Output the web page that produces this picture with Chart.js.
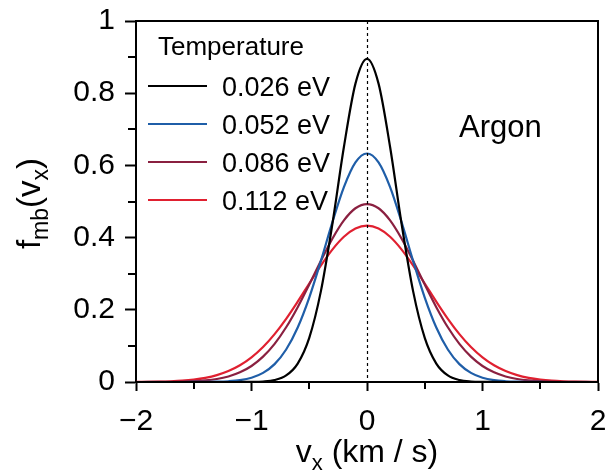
<!DOCTYPE html>
<html>
<head>
<meta charset="utf-8">
<script src="https://cdn.jsdelivr.net/npm/chart.js@4.4.1/dist/chart.umd.min.js"></script>
<style>
  html, body { margin: 0; padding: 0; background: #fff; }
  #wrap { width: 607px; height: 475px; }
</style>
</head>
<body>
<div id="wrap"><canvas id="mb"></canvas></div>
<script>
// vx in km/s
const vx = [-2.0, -1.9, -1.8, -1.7, -1.6, -1.5, -1.4, -1.3, -1.2, -1.1, -1.0,
            -0.9, -0.8, -0.7, -0.6, -0.5, -0.4, -0.3, -0.2, -0.1, 0.0,
            0.1, 0.2, 0.3, 0.4, 0.5, 0.6, 0.7, 0.8, 0.9, 1.0,
            1.1, 1.2, 1.3, 1.4, 1.5, 1.6, 1.7, 1.8, 1.9, 2.0];

const temps = ["0.026 eV", "0.052 eV", "0.086 eV", "0.112 eV"];
const colors = ["#000000", "#1f5ea8", "#8a2040", "#e02030"];

const f026 = [0, 0, 0, 0, 0, 0, 0, 0, 0, 0.0001, 0.0003,
              0.0014, 0.0055, 0.0181, 0.0510, 0.1223, 0.2503, 0.4371, 0.6510, 0.8265, 0.895,
              0.8265, 0.6510, 0.4371, 0.2503, 0.1223, 0.0510, 0.0181, 0.0055, 0.0014, 0.0003,
              0.0001, 0, 0, 0, 0, 0, 0, 0, 0, 0];
const f052 = [0, 0, 0, 0, 0, 0.0001, 0.0003, 0.0008, 0.0021, 0.0051, 0.0118,
              0.0252, 0.0495, 0.0900, 0.1510, 0.2340, 0.3348, 0.4423, 0.5398, 0.6083, 0.633,
              0.6083, 0.5398, 0.4423, 0.3348, 0.2340, 0.1510, 0.0900, 0.0495, 0.0252, 0.0118,
              0.0051, 0.0021, 0.0008, 0.0003, 0.0001, 0, 0, 0, 0, 0];
const f086 = [0.0000, 0.0001, 0.0002, 0.0005, 0.0010, 0.0022, 0.0044, 0.0084, 0.0154, 0.0268, 0.0444,
              0.0702, 0.1057, 0.1516, 0.2073, 0.2701, 0.3354, 0.3970, 0.4477, 0.4813, 0.493,
              0.4813, 0.4477, 0.3970, 0.3354, 0.2701, 0.2073, 0.1516, 0.1057, 0.0702, 0.0444,
              0.0268, 0.0154, 0.0084, 0.0044, 0.0022, 0.0010, 0.0005, 0.0002, 0.0001, 0.0000];
const f112 = [0.0003, 0.0005, 0.0011, 0.0021, 0.0038, 0.0068, 0.0116, 0.0191, 0.0303, 0.0463, 0.0682,
              0.0969, 0.1327, 0.1751, 0.2227, 0.2728, 0.3222, 0.3667, 0.4022, 0.4251, 0.433,
              0.4251, 0.4022, 0.3667, 0.3222, 0.2728, 0.2227, 0.1751, 0.1327, 0.0969, 0.0682,
              0.0463, 0.0303, 0.0191, 0.0116, 0.0068, 0.0038, 0.0021, 0.0011, 0.0005, 0.0003];
const series = [f026, f052, f086, f112];

const xTickLabels = {"-2": "\u22122", "-1": "\u22121", "0": "0", "1": "1", "2": "2"};
const yTickLabels = {"0": "0", "0.2": "0.2", "0.4": "0.4", "0.6": "0.6", "0.8": "0.8", "1": "1"};

const FONT = "'Liberation Sans', Arial, Helvetica, sans-serif";

function pts(ys) {
    return vx.map((v, i) => ({x: v, y: ys[i]}));
}

// text pieces with subscripts, centred on x
function drawSub(ctx, parts, x, y, size, subSize, shift) {
    let w = 0;
    parts.forEach(p => {
        ctx.font = (p.sub ? subSize : size) + "px " + FONT;
        w += ctx.measureText(p.t).width;
    });
    let cx = x - w / 2;
    parts.forEach(p => {
        ctx.font = (p.sub ? subSize : size) + "px " + FONT;
        ctx.fillText(p.t, cx, p.sub ? y + shift : y);
        cx += ctx.measureText(p.t).width;
    });
}

const extras = {
    id: "extras",
    afterDatasetsDraw(chart) {
        const ctx = chart.ctx;
        const a = chart.chartArea;
        const xs = chart.scales.x, ys = chart.scales.y;
        ctx.save();

        // dashed zero line
        ctx.strokeStyle = "#000";
        ctx.lineWidth = 1.2;
        ctx.setLineDash([3, 3]);
        const x0 = Math.round(xs.getPixelForValue(0)) + 0.5;
        ctx.beginPath();
        ctx.moveTo(x0, a.top);
        ctx.lineTo(x0, a.bottom);
        ctx.stroke();
        ctx.setLineDash([]);

        // top and right frame
        ctx.lineWidth = 2;
        ctx.beginPath();
        ctx.moveTo(a.left - 1, a.top);
        ctx.lineTo(a.right, a.top);
        ctx.lineTo(a.right, a.bottom + 1);
        ctx.stroke();

        // minor ticks
        ctx.beginPath();
        [0.1, 0.3, 0.5, 0.7, 0.9].forEach(v => {
            const py = Math.round(ys.getPixelForValue(v));
            ctx.moveTo(a.left, py);
            ctx.lineTo(a.left - 8, py);
        });
        [-1.5, -0.5, 0.5, 1.5].forEach(v => {
            const px = Math.round(xs.getPixelForValue(v));
            ctx.moveTo(px, a.bottom);
            ctx.lineTo(px, a.bottom + 7);
        });
        ctx.stroke();

        ctx.fillStyle = "#000";
        ctx.textAlign = "left";
        ctx.textBaseline = "alphabetic";

        // legend
        ctx.font = "26px " + FONT;
        ctx.fillText("Temperature", 158, 55);
        chart.data.datasets.forEach((ds, i) => {
            const ly = 86 + i * 38;
            ctx.strokeStyle = ds.borderColor;
            ctx.lineWidth = 2.2;
            ctx.beginPath();
            ctx.moveTo(148, ly);
            ctx.lineTo(207, ly);
            ctx.stroke();
            ctx.font = "27px " + FONT;
            ctx.fillText(ds.label, 222, ly + 10);
        });

        ctx.font = "31px " + FONT;
        ctx.fillText("Argon", 459, 137);

        // x title
        drawSub(ctx, [{t: "v"}, {t: "x", sub: true}, {t: " (km / s)"}],
            (a.left + a.right) / 2, 462, 32, 22, 8);

        // y title
        ctx.save();
        ctx.translate(40, (a.top + a.bottom) / 2 + 2);
        ctx.rotate(-Math.PI / 2);
        drawSub(ctx, [{t: "f"}, {t: "mb", sub: true}, {t: "(v"}, {t: "x", sub: true}, {t: ")"}],
            0, 0, 33, 23, 8);
        ctx.restore();

        ctx.restore();
    }
};

new Chart(document.getElementById("mb"), {
    type: "line",
    data: {
        datasets: series.map((s, i) => ({
            label: temps[i],
            data: pts(s),
            borderColor: colors[i],
            backgroundColor: colors[i],
            borderWidth: 2.2,
            pointRadius: 0,
            cubicInterpolationMode: "monotone",
            fill: false
        }))
    },
    options: {
        responsive: true,
        maintainAspectRatio: false,
        animation: false,
        layout: { padding: { left: 0, right: 9, top: 21, bottom: 0 } },
        plugins: {
            legend: { display: false },
            tooltip: { enabled: false }
        },
        scales: {
            x: {
                type: "linear",
                min: -2,
                max: 2,
                afterFit: s => { s.height = 93; s.paddingLeft = 0; s.paddingRight = 0; },
                afterBuildTicks: s => { s.ticks = [-2, -1, 0, 1, 2].map(v => ({value: v})); },
                ticks: {
                    color: "#000",
                    font: { family: FONT, size: 30 },
                    padding: 13,
                    maxRotation: 0,
                    callback: v => xTickLabels[String(v)] ?? ""
                },
                grid: { drawOnChartArea: false, tickLength: 9, tickWidth: 2, tickColor: "#000" },
                border: { color: "#000", width: 2 }
            },
            y: {
                min: 0,
                max: 1,
                afterFit: s => { s.width = 136; s.paddingTop = 0; s.paddingBottom = 0; },
                afterBuildTicks: s => { s.ticks = [0, 0.2, 0.4, 0.6, 0.8, 1].map(v => ({value: v})); },
                ticks: {
                    color: "#000",
                    font: { family: FONT, size: 30 },
                    padding: 10,
                    callback: v => yTickLabels[String(Math.round(v * 10) / 10)] ?? ""
                },
                grid: { drawOnChartArea: false, tickLength: 11, tickWidth: 2, tickColor: "#000" },
                border: { color: "#000", width: 2 }
            }
        }
    },
    plugins: [extras]
});
</script>
</body>
</html>
